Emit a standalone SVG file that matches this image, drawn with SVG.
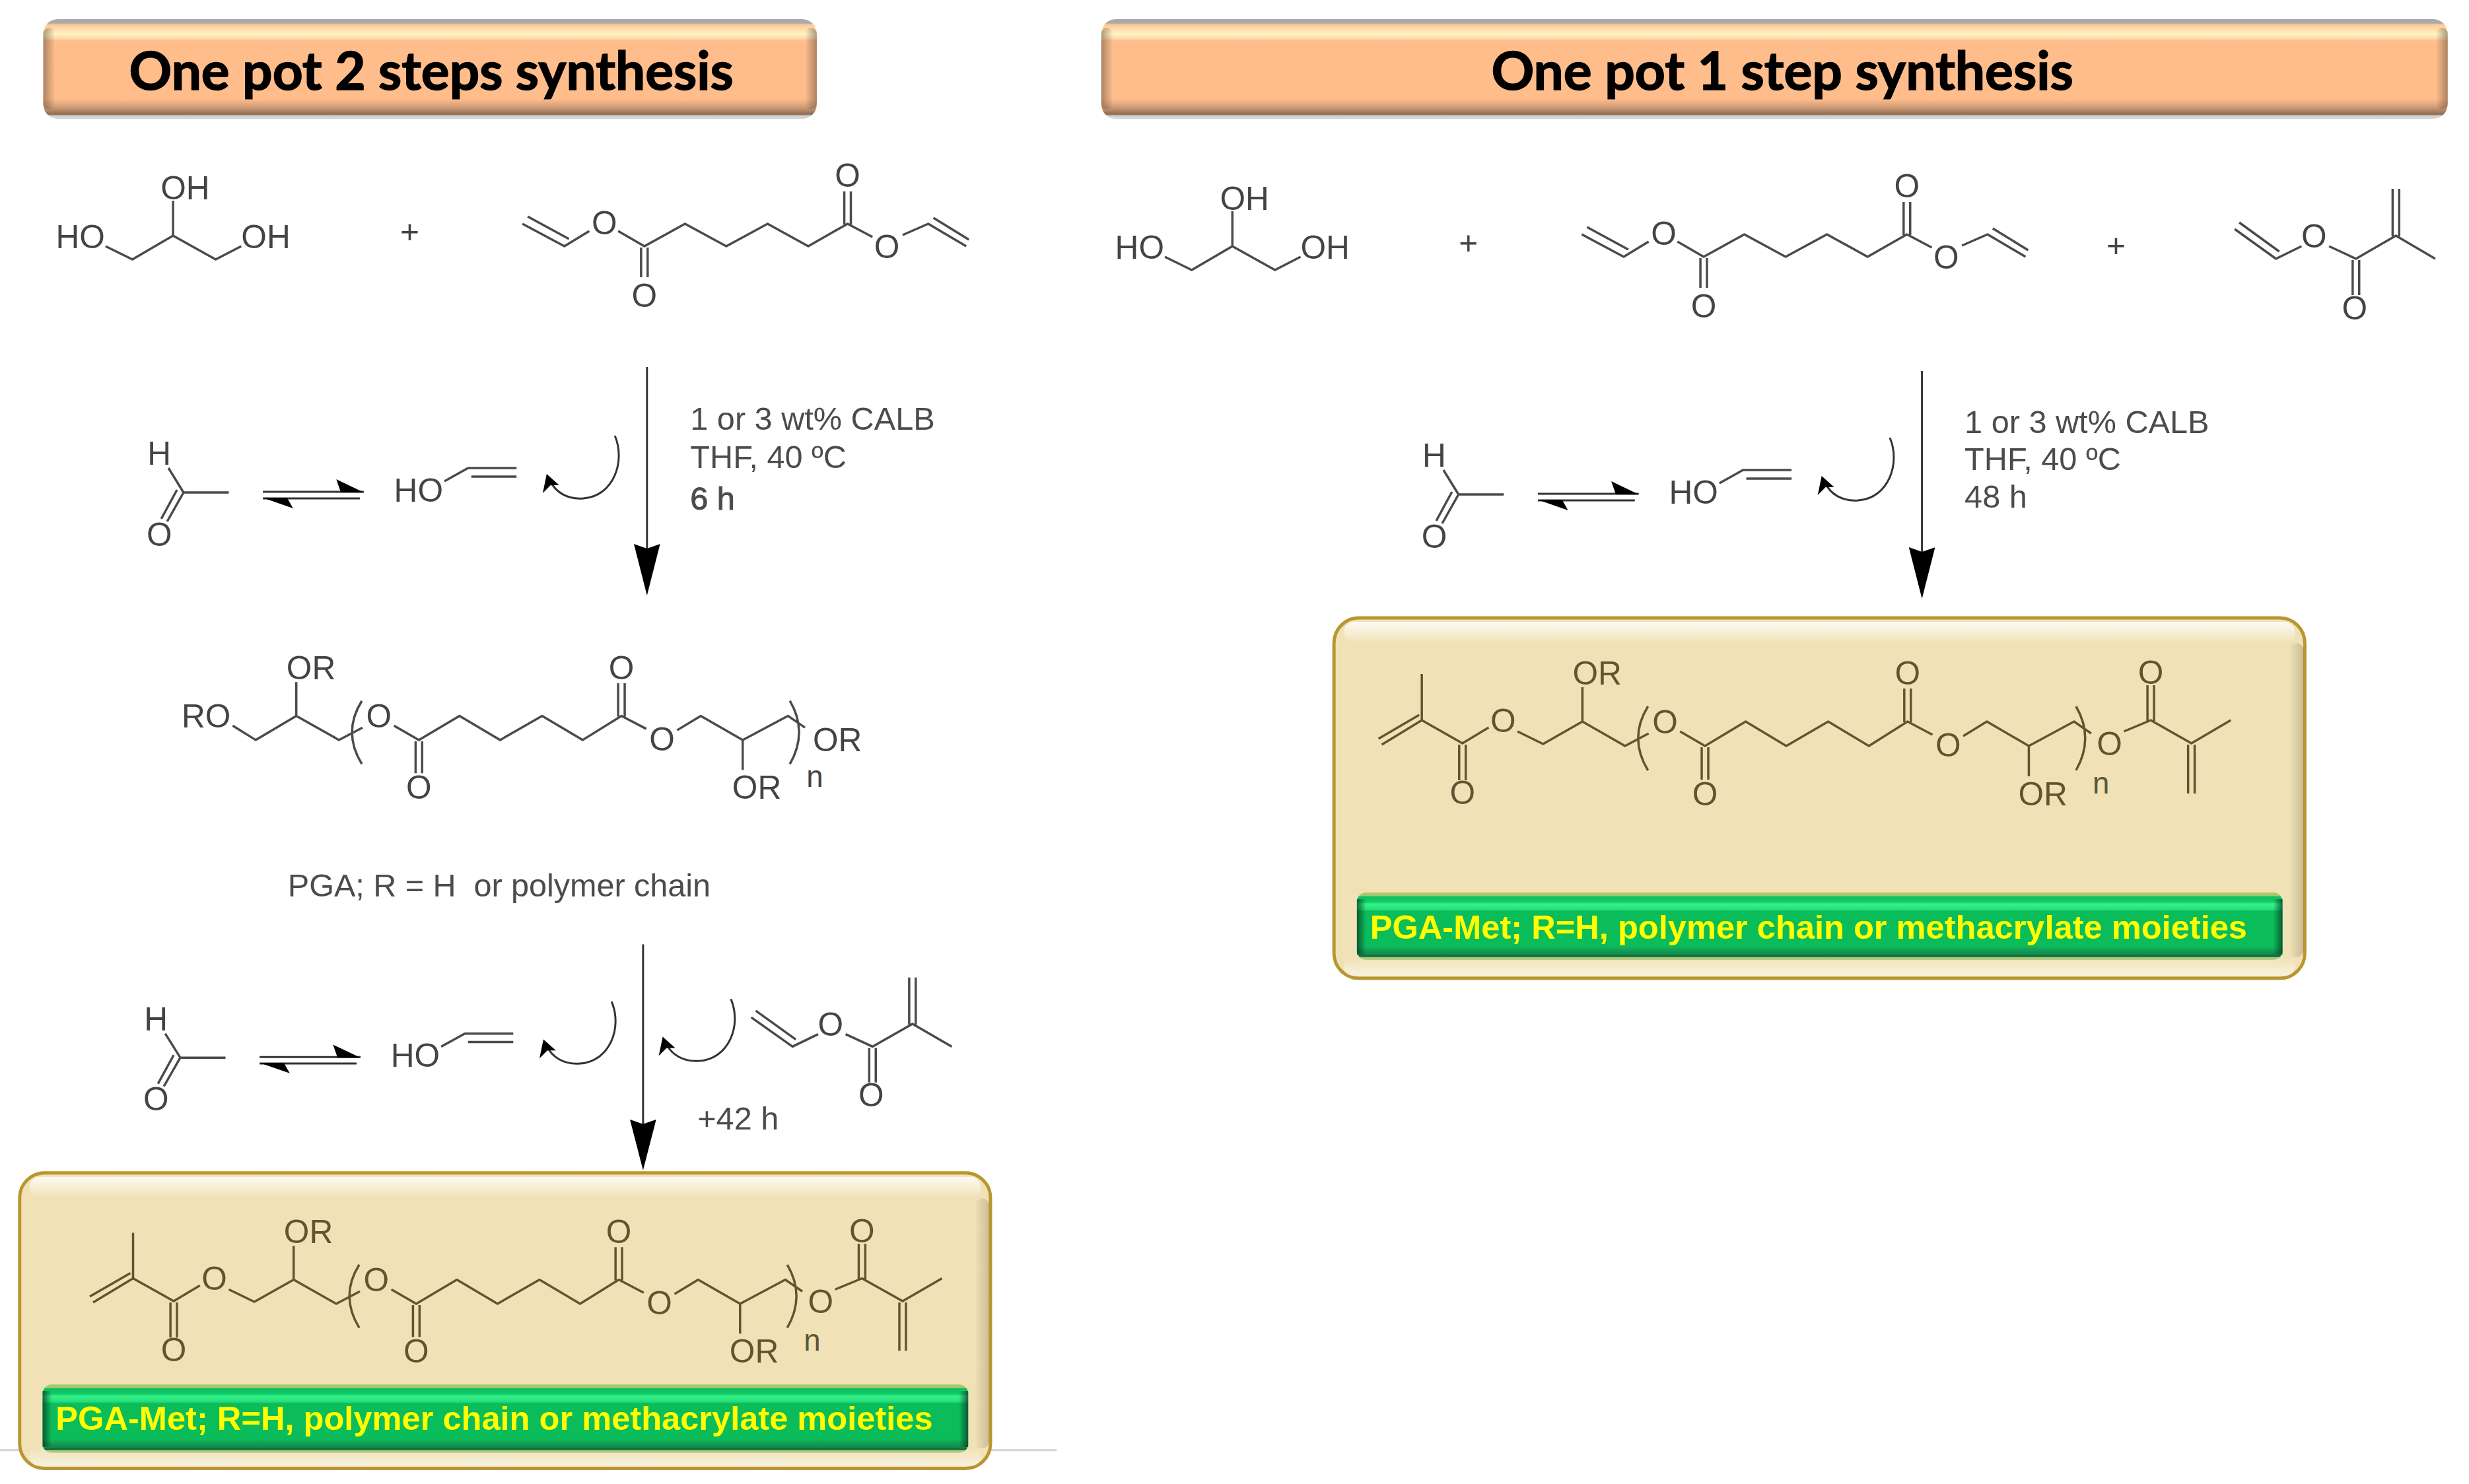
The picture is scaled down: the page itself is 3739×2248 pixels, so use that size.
<svg xmlns="http://www.w3.org/2000/svg" width="3739" height="2248" viewBox="0 0 3739 2248">
<style>
text{font-family:"Liberation Sans",Arial,sans-serif}
.b{fill:none;stroke:#4a4a4a;stroke-width:3.5;stroke-linejoin:round}
.bp{fill:none;stroke:#5f5530;stroke-width:3.5;stroke-linejoin:round}
.m{font-size:50px;fill:#444}
.mp{font-size:50px;fill:#5f5530}
.mid{text-anchor:middle}
.c{font-size:49px;fill:#4c4c4c;white-space:pre}
.t{font-family:Lato,"Open Sans",sans-serif;font-weight:700;font-size:80px;fill:#000;stroke:#000;stroke-width:1.5;text-anchor:middle}
.y{font-size:50px;font-weight:700;fill:#ffff00}
.a{fill:none;stroke:#333;stroke-width:3}
.k{fill:#000;stroke:none}
</style>
<defs>
<linearGradient id="hdr" x1="0" y1="0" x2="0" y2="1">
<stop offset="0" stop-color="#a9a9a9"/><stop offset=".04" stop-color="#a9a9a9"/><stop offset=".055" stop-color="#ffc796"/><stop offset=".1" stop-color="#ffdcae"/><stop offset=".15" stop-color="#fff3c0"/><stop offset=".19" stop-color="#ffdcae"/><stop offset=".22" stop-color="#ffbd8c"/><stop offset=".8" stop-color="#ffbd8c"/><stop offset=".86" stop-color="#e0a67c"/><stop offset=".91" stop-color="#b88c6c"/><stop offset=".955" stop-color="#8c6a52"/><stop offset=".97" stop-color="#d0d0d0"/><stop offset="1" stop-color="#d8d8d8"/>
</linearGradient>
<linearGradient id="grn" x1="0" y1="0" x2="0" y2="1">
<stop offset="0" stop-color="#a8c86c"/><stop offset=".05" stop-color="#a8c86c"/><stop offset=".06" stop-color="#0cbe5c"/><stop offset=".14" stop-color="#12cc66"/><stop offset=".17" stop-color="#34f38a"/><stop offset=".25" stop-color="#28de78"/><stop offset=".28" stop-color="#0abc5a"/><stop offset=".8" stop-color="#0abc5a"/><stop offset=".85" stop-color="#16a058"/><stop offset=".92" stop-color="#0f8a4a"/><stop offset=".95" stop-color="#0a5f3a"/><stop offset=".965" stop-color="#a8c878"/><stop offset="1" stop-color="#b4cc84"/>
</linearGradient>
<linearGradient id="hi" x1="0" y1="0" x2="0" y2="1"><stop offset="0" stop-color="#fff" stop-opacity=".85"/><stop offset="1" stop-color="#fff" stop-opacity="0"/></linearGradient>
<linearGradient id="lo" x1="0" y1="0" x2="0" y2="1"><stop offset="0" stop-color="#fff" stop-opacity="0"/><stop offset="1" stop-color="#fff" stop-opacity=".55"/></linearGradient>
<linearGradient id="eL"><stop offset="0" stop-color="#5a4a3a" stop-opacity=".5"/><stop offset="1" stop-color="#5a4a3a" stop-opacity="0"/></linearGradient>
<linearGradient id="eR"><stop offset="0" stop-color="#5a4a3a" stop-opacity="0"/><stop offset="1" stop-color="#5a4a3a" stop-opacity=".5"/></linearGradient>
<linearGradient id="gR"><stop offset="0" stop-color="#063a24" stop-opacity="0"/><stop offset="1" stop-color="#063a24" stop-opacity=".75"/></linearGradient>
<linearGradient id="gL"><stop offset="0" stop-color="#063a24" stop-opacity=".75"/><stop offset="1" stop-color="#063a24" stop-opacity="0"/></linearGradient>
<marker id="head" viewBox="0 -20 78 40" refX="68" refY="0" markerWidth="78" markerHeight="40" markerUnits="userSpaceOnUse" orient="auto"><polygon points="0,-20 78,0 0,20 7,0" fill="#000"/></marker>
<path id="sk-glycerol" d="M161,373L202,393L264,357L329,393L368,373M264,357V304"/>
<path id="sk-adipate" d="M797,339L861,373L899,350M943,350L983,373L1045,339L1108,373L1171,339L1233,373L1293,339L1331,359M1377,356L1416,339L1474,373M805,328L868,362M1424,330L1478,363M978,375V420M988,375V420M1288,340V290M1298,340V290"/>
<path id="sk-aldehyde" d="M257,709L280,746H349M280,746L255,790M270,742L246,786"/>
<path id="sk-enol" d="M678,729L714,709H788M719,722H788"/>
<path id="sk-vma" d="M1146,1550L1209,1595L1248,1576M1153,1540L1214,1584M1290,1576L1331,1595L1392,1560L1452,1595M1326,1597V1650M1336,1597V1650M1387,1561V1489M1397,1561V1489"/>
<path id="sk-core" d="M452,1035V1087L517,1124L553,1105M601,1102L639,1124L701,1087L763,1124L827,1087L889,1124L948,1087L986,1107M1033,1109L1069,1087L1133,1124L1202,1087L1228,1105M1133,1124V1170M634,1126V1175M644,1126V1175M943,1088V1037M953,1088V1037M552,1064Q522,1112 552,1161M1205,1064Q1233,1112 1205,1161"/>
<path id="sk-ends" d="M203,1881V1951L265,1986L305,1962M203,1951L142,1988M199,1943L137,1979M349,1968L388,1987L448,1953M260,1988V2042M270,1988V2042M1274,1968L1315,1951L1377,1986L1437,1951M1310,1952V1898M1320,1952V1898M1372,1988V2062M1382,1988V2062"/>
<g id="eq"><path class="a" d="M401,745H555M401,755H549"/><polygon class="k" points="513,726 555,746 520,746"/><polygon class="k" points="401,754 447,770 438,754"/></g>
<g id="curl"><path class="a" d="M938,660C955,700 935,752 890,755C865,757 847,745 839,728"/><polygon class="k" points="834,718 828,747 840,735 853,735"/></g>
</defs>

<g id="diagram" transform="scale(.9927,1)">

<g id="header-left">
<rect x="66" y="29" width="1180" height="151" rx="22" fill="url(#hdr)"/>
<rect x="66" y="42" width="18" height="124" rx="9" fill="url(#eL)"/><rect x="1228" y="42" width="18" height="124" rx="9" fill="url(#eR)"/>
<text class="t" x="658" y="136" textLength="922" lengthAdjust="spacingAndGlyphs">One pot 2 steps synthesis</text>
</g>
<g id="header-right">
<rect x="1680" y="29" width="2054" height="151" rx="22" fill="url(#hdr)"/>
<rect x="1680" y="42" width="18" height="124" rx="9" fill="url(#eL)"/><rect x="3716" y="42" width="18" height="124" rx="9" fill="url(#eR)"/>
<text class="t" x="2719" y="136" textLength="888" lengthAdjust="spacingAndGlyphs">One pot 1 step synthesis</text>
</g>

<g id="glycerol-left">
<use href="#sk-glycerol" class="b"/>
<text class="m" x="85" y="376">HO</text><text class="m" x="245" y="302">OH</text><text class="m" x="368" y="376">OH</text>
</g>
<text id="plus-left" class="m mid" x="625" y="368">+</text>
<g id="adipate-left">
<use href="#sk-adipate" class="b"/>
<text class="m mid" x="922" y="355">O</text><text class="m mid" x="983" y="465">O</text><text class="m mid" x="1293" y="283">O</text><text class="m mid" x="1353" y="391">O</text>
</g>
<text id="cond-left" class="c"><tspan x="1053" y="651">1 or 3 wt% CALB</tspan><tspan x="1053" y="709">THF, 40 ºC</tspan><tspan x="1053" y="772" style="stroke:#4c4c4c;stroke-width:1">6 h</tspan></text>

<g id="aldehyde-left1"><use href="#sk-aldehyde" class="b"/><text class="m mid" x="243" y="704">H</text><text class="m mid" x="243" y="827">O</text></g>
<g id="enol-left1"><use href="#sk-enol" class="b"/><text class="m" x="601" y="760">HO</text></g>

<g id="glycerol-right" transform="translate(1616,16)">
<use href="#sk-glycerol" class="b"/>
<text class="m" x="85" y="376">HO</text><text class="m" x="245" y="302">OH</text><text class="m" x="368" y="376">OH</text>
</g>
<text id="plus-right1" class="m mid" x="2240" y="385">+</text>
<g id="adipate-right" transform="translate(1616,16)">
<use href="#sk-adipate" class="b"/>
<text class="m mid" x="922" y="355">O</text><text class="m mid" x="983" y="465">O</text><text class="m mid" x="1293" y="283">O</text><text class="m mid" x="1353" y="391">O</text>
</g>
<text id="plus-right2" class="m mid" x="3228" y="389">+</text>
<g id="vma-right" transform="translate(2263,-1203)"><use href="#sk-vma" class="b"/><text class="m mid" x="1267" y="1578">O</text><text class="m mid" x="1329" y="1687">O</text></g>
<text id="cond-right" class="c"><tspan x="2997" y="656">1 or 3 wt% CALB</tspan><tspan x="2997" y="712">THF, 40 ºC</tspan><tspan x="2997" y="769">48 h</tspan></text>
<g id="aldehyde-right" transform="translate(1945,3)"><use href="#sk-aldehyde" class="b"/><text class="m mid" x="243" y="704">H</text><text class="m mid" x="243" y="827">O</text></g>
<g id="enol-right" transform="translate(1945,3)"><use href="#sk-enol" class="b"/><text class="m" x="601" y="760">HO</text></g>

<g id="panel-right">
<rect x="2035" y="936" width="1481" height="546" rx="38" fill="#f0e2b6" stroke="#b9962f" stroke-width="5"/>
<rect x="2050" y="942" width="1451" height="32" rx="16" fill="url(#hi)"/>
<rect x="2050" y="1450" width="1451" height="28" rx="14" fill="url(#lo)"/>
<rect x="3492" y="974" width="22" height="476" rx="11" fill="url(#eR)" opacity=".5"/>
<rect x="2070" y="1352" width="1412" height="102" rx="14" fill="url(#grn)"/>
<rect x="3468" y="1362" width="14" height="84" fill="url(#gR)"/><rect x="2070" y="1362" width="14" height="84" fill="url(#gL)"/>
<g transform="translate(1966,-860)">
<use href="#sk-core" class="bp" x="-4" y="866"/>
<use href="#sk-ends" class="bp"/>
<text class="mp" x="433" y="1897">OR</text><text class="mp mid" x="574" y="1971">O</text><text class="mp mid" x="944" y="1897">O</text><text class="mp mid" x="635" y="2080">O</text><text class="mp mid" x="1006" y="2006">O</text><text class="mp" x="1113" y="2080">OR</text><text class="mp mid" x="1239" y="2062" style="font-size:46px">n</text>
<text class="mp mid" x="327" y="1969">O</text><text class="mp mid" x="265" y="2078">O</text><text class="mp mid" x="1252" y="2004">O</text><text class="mp mid" x="1315" y="1896">O</text>
</g>
<text class="y" x="2090" y="1422" textLength="1338" lengthAdjust="spacingAndGlyphs">PGA-Met; R=H, polymer chain or methacrylate moieties</text>
</g>

<g id="lower-left" transform="translate(0,900) scale(1,.9862) translate(0,-900)">
<line id="page-rule" x1="0" y1="2215" x2="1612" y2="2215" stroke="#d4d4d4" stroke-width="3"/>
<g id="pga">
<path class="b" d="M355,1102L390,1124L452,1087"/>
<use href="#sk-core" class="b"/>
<text class="m" x="277" y="1105">RO</text><text class="m" x="437" y="1031">OR</text><text class="m mid" x="578" y="1105">O</text><text class="m mid" x="948" y="1031">O</text><text class="m mid" x="639" y="1214">O</text><text class="m mid" x="1010" y="1140">O</text><text class="m" x="1117" y="1214">OR</text><text class="m" x="1240" y="1141">OR</text><text class="m mid" x="1243" y="1196" style="font-size:46px">n</text>
</g>
<text id="pga-label" class="c" x="439" y="1364" textLength="645">PGA; R = H  or polymer chain</text>
<g id="aldehyde-left2" transform="translate(-5,866)"><use href="#sk-aldehyde" class="b"/><text class="m mid" x="243" y="704">H</text><text class="m mid" x="243" y="827">O</text></g>
<g id="enol-left2" transform="translate(-5,866)"><use href="#sk-enol" class="b"/><text class="m" x="601" y="760">HO</text></g>
<g id="vma-left"><use href="#sk-vma" class="b"/><text class="m mid" x="1267" y="1578">O</text><text class="m mid" x="1329" y="1687">O</text></g>
<text id="time-left" class="c" x="1064" y="1722">+42 h</text>
<g id="panel-left">
<rect x="30" y="1789" width="1481" height="454" rx="38" fill="#f0e2b6" stroke="#b9962f" stroke-width="5"/>
<rect x="45" y="1795" width="1451" height="32" rx="16" fill="url(#hi)"/>
<rect x="45" y="2211" width="1451" height="28" rx="14" fill="url(#lo)"/>
<rect x="1487" y="1828" width="22" height="384" rx="11" fill="url(#eR)" opacity=".5"/>
<rect x="65" y="2114" width="1412" height="105" rx="14" fill="url(#grn)"/>
<rect x="1463" y="2124" width="14" height="86" fill="url(#gR)"/><rect x="65" y="2124" width="14" height="86" fill="url(#gL)"/>
<use href="#sk-core" class="bp" x="-4" y="866"/>
<use href="#sk-ends" class="bp"/>
<text class="mp" x="433" y="1897">OR</text><text class="mp mid" x="574" y="1971">O</text><text class="mp mid" x="944" y="1897">O</text><text class="mp mid" x="635" y="2080">O</text><text class="mp mid" x="1006" y="2006">O</text><text class="mp" x="1113" y="2080">OR</text><text class="mp mid" x="1239" y="2062" style="font-size:46px">n</text>
<text class="mp mid" x="327" y="1969">O</text><text class="mp mid" x="265" y="2078">O</text><text class="mp mid" x="1252" y="2004">O</text><text class="mp mid" x="1315" y="1896">O</text>
<text class="y" x="85" y="2184" textLength="1338" lengthAdjust="spacingAndGlyphs">PGA-Met; R=H, polymer chain or methacrylate moieties</text>
</g>
</g>

<g id="connectors">
<path class="a" d="M987,556V892" marker-end="url(#head)"/>
<path class="a" d="M2932,562V897" marker-end="url(#head)"/>
<use href="#eq"/>
<use href="#curl"/>
<use href="#eq" x="1945" y="3"/>
<use href="#curl" x="1945" y="3"/>
<g transform="translate(0,900) scale(1,.9862) translate(0,-900)">
<path class="a" d="M981,1438V1775" marker-end="url(#head)"/>
<use href="#eq" x="-5" y="866"/>
<use href="#curl" x="-5" y="866"/>
<use href="#curl" x="177" y="862"/>
</g>
</g>
</g>
</svg>
